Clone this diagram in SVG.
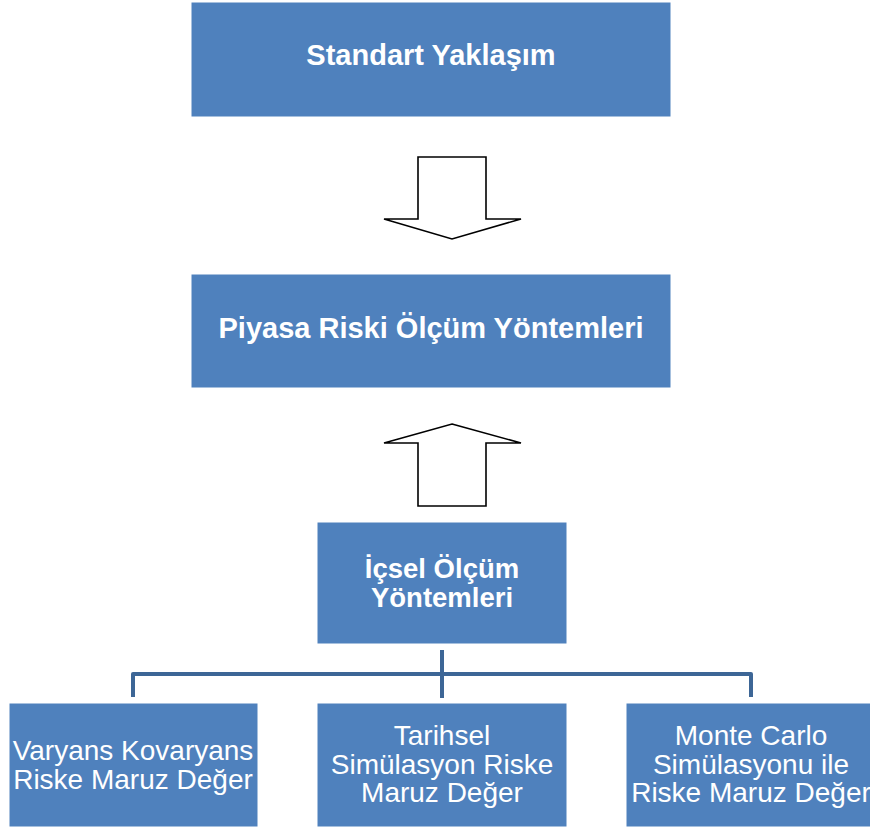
<svg xmlns="http://www.w3.org/2000/svg" width="870" height="830" viewBox="0 0 870 830">
  <style>
    .box { fill: #4f81bd; stroke: #ffffff; stroke-width: 1; }
    .bold { font-family: "Liberation Sans", Arial, sans-serif; font-weight: bold; fill: #ffffff; text-anchor: middle; }
    .reg { font-family: "Liberation Sans", Arial, sans-serif; font-size: 28px; fill: #ffffff; text-anchor: middle; }
    .arrow { fill: #ffffff; stroke: #000000; stroke-width: 1.6; stroke-linejoin: miter; }
    .link { fill: none; stroke: #3d6696; stroke-width: 4; stroke-linejoin: round; }
  </style>
  <rect width="870" height="830" fill="#ffffff"/>

  <g id="connectors">
    <!-- block arrows between the upper tiers -->
    <polygon class="arrow" points="418,157 486,157 486,219 521,219 452,239 384,219 418,219"/>
    <polygon class="arrow" points="452,424 521,443 486,443 486,506 418,506 418,443 384,443"/>
    <!-- tree links to the three methods -->
    <path class="link" d="M442,650 V698"/>
    <path class="link" d="M133,697 V674 H751 V697"/>
  </g>

  <g id="standart">
    <rect class="box" x="191" y="2" width="480" height="115"/>
    <text class="bold" x="431" y="65" font-size="29">Standart Yaklaşım</text>
  </g>

  <g id="piyasa">
    <rect class="box" x="191" y="274" width="480" height="114"/>
    <text class="bold" x="431" y="338" font-size="29">Piyasa Riski Ölçüm Yöntemleri</text>
  </g>

  <g id="icsel">
    <rect class="box" x="317" y="522" width="250" height="122"/>
    <text class="bold" x="442" y="578" font-size="27.5">İçsel Ölçüm</text>
    <text class="bold" x="442" y="607" font-size="27.5">Yöntemleri</text>
  </g>

  <g id="varyans">
    <rect class="box" x="9" y="703" width="249" height="124"/>
    <text class="reg" x="133" y="760">Varyans Kovaryans</text>
    <text class="reg" x="133" y="788.5">Riske Maruz Değer</text>
  </g>

  <g id="tarihsel">
    <rect class="box" x="317" y="703" width="250" height="124"/>
    <text class="reg" x="442" y="745">Tarihsel</text>
    <text class="reg" x="442" y="773.5">Simülasyon Riske</text>
    <text class="reg" x="442" y="802">Maruz Değer</text>
  </g>

  <g id="montecarlo">
    <rect class="box" x="626" y="703" width="250" height="124"/>
    <text class="reg" x="751" y="745">Monte Carlo</text>
    <text class="reg" x="751" y="773.5">Simülasyonu ile</text>
    <text class="reg" x="751" y="802">Riske Maruz Değer</text>
  </g>
</svg>
